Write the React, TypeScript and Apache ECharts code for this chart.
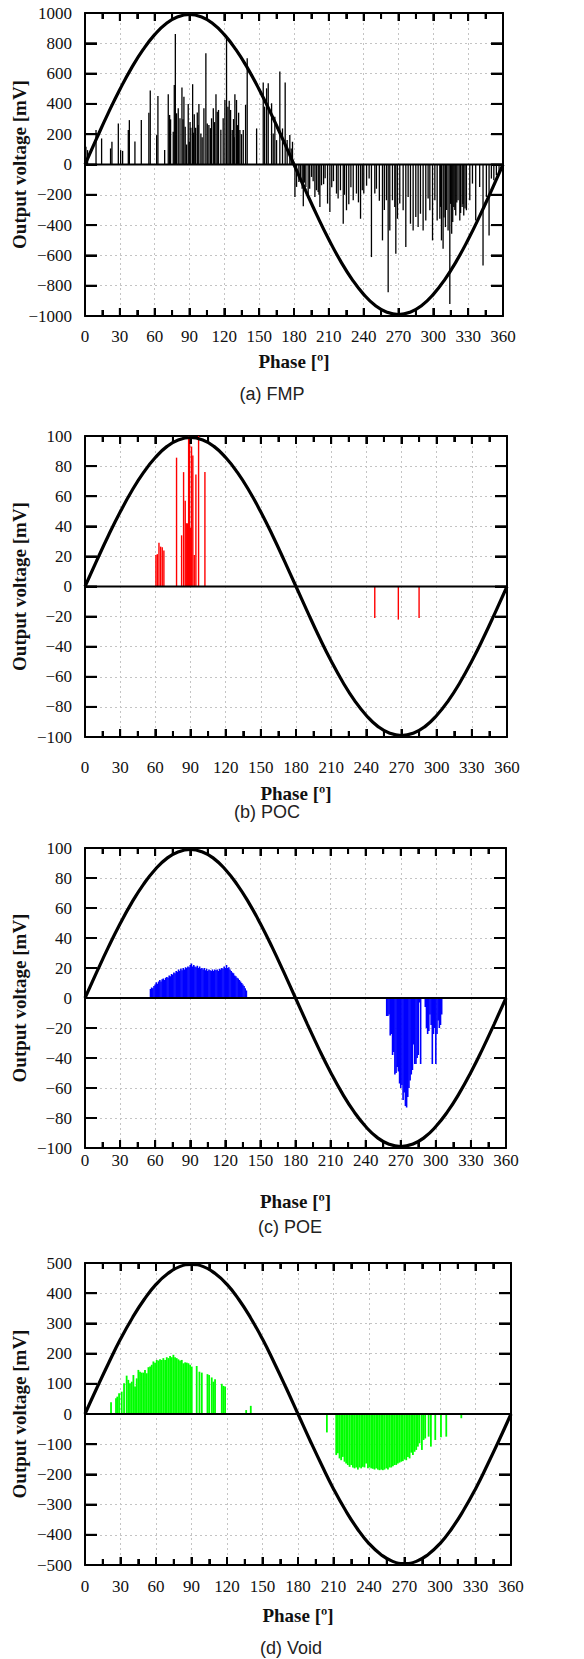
import React, { useEffect, useRef } from "react";
import * as echarts from "echarts";

// ---------- data ----------
const PHASE_TICKS = [0, 30, 60, 90, 120, 150, 180, 210, 240, 270, 300, 330, 360];
const PHASE_MINOR_TICKS = [15, 45, 75, 105, 135, 165, 195, 225, 255, 285, 315, 345];
const FMP_Y_TICKS = [-800, -600, -400, -200, 0, 200, 400, 600, 800];
const PD_Y_TICKS = [-80, -60, -40, -20, 0, 20, 40, 60, 80];
const VOID_Y_TICKS = [-400, -300, -200, -100, 0, 100, 200, 300, 400];
const SINE_PHASES = [0, 10, 20, 30, 40, 50, 60, 70, 80, 90, 100, 110, 120, 130, 140, 150, 160, 170, 180, 190, 200, 210, 220, 230, 240, 250, 260, 270, 280, 290, 300, 310, 320, 330, 340, 350, 360];

const sineFMP = [0, 172, 339, 495, 636, 758, 857, 931, 975, 990, 975, 931, 857, 758, 636, 495, 339, 172, 0, -172, -339, -495, -636, -758, -857, -931, -975, -990, -975, -931, -857, -758, -636, -495, -339, -172, 0];
const sinePOC = [0, 17.2, 33.9, 49.5, 63.6, 75.8, 85.7, 93.1, 97.5, 99, 97.5, 93.1, 85.7, 75.8, 63.6, 49.5, 33.9, 17.2, 0, -17.2, -33.9, -49.5, -63.6, -75.8, -85.7, -93.1, -97.5, -99, -97.5, -93.1, -85.7, -75.8, -63.6, -49.5, -33.9, -17.2, 0];
const sinePOE = [0, 17.2, 33.9, 49.5, 63.6, 75.8, 85.7, 93.1, 97.5, 99, 97.5, 93.1, 85.7, 75.8, 63.6, 49.5, 33.9, 17.2, 0, -17.2, -33.9, -49.5, -63.6, -75.8, -85.7, -93.1, -97.5, -99, -97.5, -93.1, -85.7, -75.8, -63.6, -49.5, -33.9, -17.2, 0];
const sineVoid = [0, 86, 169, 248, 318, 379, 429, 465, 488, 495, 488, 465, 429, 379, 318, 248, 169, 86, 0, -86, -169, -248, -318, -379, -429, -465, -488, -495, -488, -465, -429, -379, -318, -248, -169, -86, 0];

// FMP pulses: [phase, mV]
const fmpPulses = [
  [0.8, 117], [2.2, 95], [9.5, 227], [14.3, 172], [22, 106], [23.2, 150], [28.7, 271], [30.7, 95], [32.4, 90],
  [37.3, 227], [38.2, 293], [43, 152], [48.5, 293], [55, 342], [56.2, 488], [61.7, 194], [62.8, 452], [68.6, 95],
  [71.7, 463], [72.9, 327], [73.7, 298], [76, 216], [76.9, 525], [77.8, 861], [78.9, 338], [80.3, 371], [81.8, 305],
  [83.5, 508], [84.4, 298], [85.2, 448], [86.3, 250], [87.5, 132], [88.9, 400], [89.8, 150], [90.5, 280], [91.2, 243],
  [92.7, 530], [93.5, 210], [94.1, 331], [95.3, 243], [96.7, 344], [97.4, 260], [98.1, 400], [99.8, 205], [100.9, 180],
  [102.4, 371], [104.1, 735], [105.3, 271], [106.7, 260], [108, 240], [109, 305], [110.5, 371], [111.6, 280],
  [112.8, 463], [113.9, 349], [115, 360], [117, 230], [119, 305], [120.5, 426], [121.9, 841], [123.1, 382],
  [124.2, 421], [125.4, 360], [126.8, 227], [127.9, 300], [128.5, 180], [129.1, 463], [130.5, 426], [131.4, 260],
  [132.3, 342], [133.4, 227], [134.8, 200], [136.3, 227], [138.3, 393], [139.7, 702], [147.8, 238], [153.5, 541],
  [154.7, 382], [156.4, 503], [157.8, 536], [160.7, 404], [162.1, 205], [163.5, 316], [165, 161], [167.8, 614],
  [170.1, 238], [172.4, 541], [174.1, 161], [176.4, 194], [177.6, 106], [178.7, 150],
  [180.8, -214], [182.2, -148], [184.2, -115], [185.5, -90], [187, -160], [188, -276], [189, -120], [190.2, -148],
  [192.2, -214], [193.5, -160], [195.1, -82], [196.5, -110], [198, -214], [199.3, -170], [200.8, -181], [201.5, -200],
  [202.3, -280], [203.7, -137], [205.5, -130], [206.8, -90], [208.9, -258], [210.9, -313], [212.5, -150], [214, -110],
  [216.6, -192], [218, -225], [220, -170], [222.4, -391], [223.5, -200], [225.2, -302], [227.2, -263], [229, -150],
  [231, -236], [233.8, -192], [235.5, -250], [237.3, -358], [238.8, -170], [240.1, -192], [242.5, -140], [244.7, -93],
  [246.7, -611], [249.6, -192], [251, -160], [253.5, -240], [256.2, -501], [257.8, -300], [259.6, -236], [261.1, -843],
  [262.5, -435], [264.8, -236], [266.8, -280], [267.7, -589],
  [269.1, -358], [271.1, -258], [274, -302], [276.3, -545], [278.3, -214], [280.3, -391], [282.6, -435], [284.9, -347],
  [286.9, -413], [288.9, -325], [291.2, -435], [293.5, -369], [295.5, -225], [297, -302], [299.3, -501], [301.3, -236],
  [303.3, -369], [305.6, -358], [306.2, -280], [307, -501], [308.4, -556], [309.2, -350], [310.4, -413], [311.5, -300],
  [312.7, -435], [314.2, -921], [314.9, -260], [315.8, -457], [316.7, -380], [317.6, -280], [318.5, -300], [319.3, -336],
  [320.2, -250], [321.3, -236], [322.8, -369], [323.5, -320], [324.8, -280], [325.5, -260], [326.2, -336], [327.3, -290],
  [328.5, -302], [331.4, -236], [333.7, -126], [336.5, -369], [339.9, -148], [342.8, -667], [345.7, -214], [348, -468],
  [350, -93], [352.1, -104], [354.3, -71], [356.6, -60],
];

// POC pulses
const pocPulses = [
  [60.5, 21], [61.7, 21.5], [63.1, 29], [64.5, 26.5], [65.9, 26], [67.3, 24], [78.1, 85.6], [82.4, 34], [84.1, 76],
  [85.5, 57], [86.4, 42], [87.5, 42], [88.4, 100], [89.2, 100], [90.1, 39], [90.9, 93], [92, 87], [93.2, 21],
  [94.6, 74.5], [96.9, 100], [102.3, 76], [247.2, -21], [267.3, -22], [285, -21],
];

// POE pulses
const poePulses = [
  [56, 6], [57, 7], [58, 6.5], [59, 8], [60, 9], [61, 10.5], [62, 9.5], [63, 11], [64, 12], [65, 11], [66, 12.5],
  [67, 13], [68, 12], [69, 13.5], [70, 14], [71, 13.5], [72, 15], [73, 14.5], [74, 16], [75, 15.5], [76, 17],
  [77, 16.5], [78, 18], [79, 17.5], [80, 19], [81, 18], [82, 19.5], [83, 18.5], [84, 20], [85, 19], [86, 20.5],
  [87, 20], [88, 21], [89, 20.5], [90, 22], [91, 23], [92, 21], [93, 22], [94, 21], [95, 20.5], [96, 21.5], [97, 20],
  [98, 21], [99, 19.5], [100, 20], [101, 19], [102, 20], [103, 18.5], [104, 19.5], [105, 18], [106, 19], [107, 18.5],
  [108, 18], [109, 19], [110, 18], [111, 19], [112, 18.5], [113, 19], [114, 18], [115, 19.5], [116, 19], [117, 20],
  [118, 19.5], [119, 21], [120, 20], [121, 22], [122, 20], [123, 20.5], [124, 19], [125, 18], [126, 17], [127, 16.5],
  [128, 15], [129, 14.5], [130, 13.5], [131, 13], [132, 12], [133, 11], [134, 10], [135, 9], [136, 8], [137, 6.5],
  [138, 5],
  [258, -12], [259, -12], [260, -11], [261, -25], [262, -24], [263, -38], [264, -36], [265, -51], [266, -50],
  [267, -46], [268, -49], [269, -57], [270, -60], [271, -58], [272, -68], [273, -63], [274, -72], [275, -73],
  [276, -66], [277, -60], [278, -55], [279, -51], [280, -48], [281, -31], [282, -44], [283, -44], [284, -40],
  [285, -38], [286, -3], [287, -44], [291, -6], [292, -20], [293, -24], [294, -22], [295, -11], [296, -18], [297, -44],
  [298, -24], [299, -20], [300, -44], [301, -24], [302, -15], [303, -20], [304, -18], [305, -11],
];

// Void pulses
const voidPulses = [
  [22, 39], [26.2, 52], [27.3, 57.5], [28.8, 68.6], [31, 74], [33, 102], [35.2, 127], [36.6, 113], [38, 102],
  [39.5, 107], [40.9, 129], [42.3, 91], [43.7, 118], [45.1, 146], [46.5, 140], [47.9, 137], [49.3, 137], [50.7, 146],
  [52.2, 135], [53.6, 155], [55, 157], [56.4, 163], [57.8, 174], [59.2, 170], [60.6, 179], [62, 177], [63.4, 181],
  [64.8, 179], [66.2, 185], [67.7, 179], [69.1, 188], [70.5, 185], [71.9, 192], [73.3, 188], [74.7, 196], [76.1, 188],
  [77.5, 185], [78.9, 181], [80.3, 177], [81.8, 179], [83.2, 168], [84.6, 171], [86, 170], [87.4, 168], [88.8, 163],
  [90.2, 157], [94.4, 159], [96.7, 140], [98.7, 137], [103.5, 132], [104.9, 129], [107.1, 121], [108.5, 107],
  [109.9, 115], [115.6, 100], [117, 93], [118.4, 91], [136.2, 13], [140.1, 27],
  [204.4, -61], [212.3, -136], [213.7, -130], [215.1, -147], [216.5, -153], [217.9, -142], [219.3, -158],
  [220.7, -164], [222.1, -169], [223.6, -175], [225, -169], [226.4, -177], [227.8, -180], [229.2, -177], [230.6, -184],
  [232, -177], [233.4, -180], [234.8, -175], [236.2, -177], [237.6, -164], [239.1, -180], [240.5, -177], [241.9, -180],
  [243.3, -181], [244.7, -184], [246.1, -180], [247.5, -184], [248.9, -186], [250.3, -184], [251.7, -186],
  [253.1, -184], [254.6, -180], [256, -184], [257.4, -177], [258.8, -177], [260.2, -173], [261.6, -169], [263, -169],
  [264.4, -164], [265.8, -161], [267.2, -158], [268.6, -156], [270.1, -150], [271.5, -153], [272.9, -142],
  [274.3, -147], [275.7, -128], [277.1, -136], [278.5, -125], [279.9, -119], [281.3, -108], [282.7, -97],
  [284.7, -119], [286.1, -86], [287.5, -81], [290.4, -75], [292.3, -108], [296, -86], [300.8, -77], [305.3, -75],
  [318, -14],
];

// ---------- layout ----------
const SERIF = "'Liberation Serif', 'Times New Roman', 'DejaVu Serif', serif";
const SANS = "'Liberation Sans', Arial, 'DejaVu Sans', sans-serif";

const panels = [
  { left: 85, top: 13, width: 418, height: 303, min: -1000, max: 1000, step: 200, yTicks: FMP_Y_TICKS, sine: sineFMP, pulses: fmpPulses, color: "#000000", bw: 1.3, labelMargin: 12, phaseY: 361, capX: 272, capY: 394, caption: "(a) FMP" },
  { left: 85, top: 436, width: 422, height: 301, min: -100, max: 100, step: 20, yTicks: PD_Y_TICKS, sine: sinePOC, pulses: pocPulses, color: "#ff0000", bw: 1.4, labelMargin: 22, phaseY: 793, capX: 267, capY: 812, caption: "(b) POC" },
  { left: 85, top: 848, width: 421, height: 300, min: -100, max: 100, step: 20, yTicks: PD_Y_TICKS, sine: sinePOE, pulses: poePulses, color: "#0000ff", bw: 1.6, labelMargin: 4, phaseY: 1201, capX: 290, capY: 1227, caption: "(c) POE" },
  { left: 85, top: 1263, width: 426, height: 302, min: -500, max: 500, step: 100, yTicks: VOID_Y_TICKS, sine: sineVoid, pulses: voidPulses, color: "#00ff00", bw: 1.8, labelMargin: 13, phaseY: 1615, capX: 291, capY: 1648, caption: "(d) Void" },
];

const MAJOR_X_TICK = 8;
const MINOR_X_TICK = 6;
const Y_TICK = 12;
const TICK_W = 2;

function lineItem(x1: number, y1: number, x2: number, y2: number) {
  return { type: "line", shape: { x1, y1, x2, y2 }, style: { stroke: "#000", lineWidth: TICK_W } };
}

function buildOption() {
  const grid: any[] = [];
  const xAxis: any[] = [];
  const yAxis: any[] = [];
  const series: any[] = [];
  const graphic: any[] = [];
  const axisLine = { show: true, onZero: false, lineStyle: { color: "#000", width: 2 } };
  const split = { show: true, lineStyle: { color: "#c4c4c4", width: 1, type: [2, 3] } };
  const fmt = (v: number) => (v < 0 ? "\u2212" + Math.abs(v) : String(v));
  const xMin = PHASE_TICKS[0];
  const xMax = PHASE_TICKS[PHASE_TICKS.length - 1];
  const xTickCfg = { show: true, inside: true, length: MAJOR_X_TICK, lineStyle: { color: "#000", width: TICK_W } };
  const xMinorCfg = { show: true, splitNumber: 2, length: MINOR_X_TICK, lineStyle: { color: "#000", width: TICK_W } };
  const yTickCfg = { show: true, inside: true, length: Y_TICK, lineStyle: { color: "#000", width: TICK_W } };

  panels.forEach((p, i) => {
    grid.push({ left: p.left, top: p.top, width: p.width, height: p.height, containLabel: false });
    const xBase = { type: "value", gridIndex: i, min: xMin, max: xMax, interval: 30, axisLine, axisTick: xTickCfg, minorTick: xMinorCfg };
    xAxis.push({
      ...xBase, position: "bottom",
      axisLabel: { show: true, fontFamily: SERIF, fontSize: 17, color: "#111", margin: p.labelMargin, showMinLabel: true, showMaxLabel: true, hideOverlap: false },
      splitLine: split,
    });
    xAxis.push({ ...xBase, position: "top", axisLabel: { show: false }, splitLine: { show: false } });
    const yBase = { type: "value", gridIndex: i, min: p.min, max: p.max, interval: p.step, axisLine, axisTick: yTickCfg };
    yAxis.push({
      ...yBase, position: "left",
      axisLabel: { show: true, fontFamily: SERIF, fontSize: 17, color: "#111", margin: 13, formatter: fmt, showMinLabel: true, showMaxLabel: true },
      splitLine: split,
    });
    yAxis.push({ ...yBase, position: "right", axisLabel: { show: false }, splitLine: { show: false } });

    const yMin = p.min;
    const yMax = p.max;
    // inward ticks: bottom edge
    series.push({
      type: "custom", xAxisIndex: 2 * i, yAxisIndex: 2 * i, z: 10,
      data: PHASE_TICKS.map((v) => [v, yMin, MAJOR_X_TICK]).concat(PHASE_MINOR_TICKS.map((v) => [v, yMin, MINOR_X_TICK])),
      encode: { x: 0, y: 1 },
      renderItem: (_params: any, api: any) => {
        const c = api.coord([api.value(0), api.value(1)]);
        return lineItem(c[0], c[1], c[0], c[1] - api.value(2));
      },
    });
    // inward ticks: top edge
    series.push({
      type: "custom", xAxisIndex: 2 * i, yAxisIndex: 2 * i, z: 10,
      data: PHASE_TICKS.map((v) => [v, yMax, MAJOR_X_TICK]).concat(PHASE_MINOR_TICKS.map((v) => [v, yMax, MINOR_X_TICK])),
      encode: { x: 0, y: 1 },
      renderItem: (_params: any, api: any) => {
        const c = api.coord([api.value(0), api.value(1)]);
        return lineItem(c[0], c[1], c[0], c[1] + api.value(2));
      },
    });
    // inward ticks: left edge
    series.push({
      type: "custom", xAxisIndex: 2 * i, yAxisIndex: 2 * i, z: 10,
      data: p.yTicks.map((v) => [xMin, v]),
      encode: { x: 0, y: 1 },
      renderItem: (_params: any, api: any) => {
        const c = api.coord([api.value(0), api.value(1)]);
        return lineItem(c[0], c[1], c[0] + Y_TICK, c[1]);
      },
    });
    // inward ticks: right edge
    series.push({
      type: "custom", xAxisIndex: 2 * i, yAxisIndex: 2 * i, z: 10,
      data: p.yTicks.map((v) => [xMax, v]),
      encode: { x: 0, y: 1 },
      renderItem: (_params: any, api: any) => {
        const c = api.coord([api.value(0), api.value(1)]);
        return lineItem(c[0], c[1], c[0] - Y_TICK, c[1]);
      },
    });

    const color = p.color;
    const bw = p.bw;
    series.push({
      type: "custom", xAxisIndex: 2 * i, yAxisIndex: 2 * i, z: 2,
      data: p.pulses,
      encode: { x: 0, y: 1 },
      renderItem: (_params: any, api: any) => {
        const x = api.value(0);
        const y = api.value(1);
        const a = api.coord([x, 0]);
        const b = api.coord([x, y]);
        return { type: "line", shape: { x1: a[0], y1: a[1], x2: b[0], y2: b[1] }, style: { stroke: color, lineWidth: bw } };
      },
    });
    series.push({
      type: "line", xAxisIndex: 2 * i, yAxisIndex: 2 * i, z: 3, symbol: "none",
      data: [[xMin, 0], [xMax, 0]],
      lineStyle: { color: "#000", width: 2.2 },
    });
    series.push({
      type: "line", xAxisIndex: 2 * i, yAxisIndex: 2 * i, z: 4, symbol: "none", smooth: true,
      data: SINE_PHASES.map((ph, k) => [ph, p.sine[k]]),
      lineStyle: { color: "#000", width: 3.2 },
    });

    graphic.push({
      type: "text", x: 19, y: p.top + p.height / 2, rotation: Math.PI / 2,
      style: { text: "Output voltage [mV]", font: `bold 19px ${SERIF}`, fill: "#111", textAlign: "center", textVerticalAlign: "middle", align: "center", verticalAlign: "middle" },
    });
    graphic.push({
      type: "text", x: p.left + p.width / 2, y: p.phaseY,
      style: { text: "Phase [\u00ba]", font: `bold 19px ${SERIF}`, fill: "#111", textAlign: "center", textVerticalAlign: "middle", align: "center", verticalAlign: "middle" },
    });
    graphic.push({
      type: "text", x: p.capX, y: p.capY,
      style: { text: p.caption, font: `18px ${SANS}`, fill: "#222", textAlign: "center", textVerticalAlign: "middle", align: "center", verticalAlign: "middle" },
    });
  });

  return { animation: false, backgroundColor: "#ffffff", grid, xAxis, yAxis, series, graphic };
}

export default function App() {
  const ref = useRef<HTMLDivElement>(null);
  useEffect(() => {
    document.body.style.margin = "0";
    const chart = echarts.init(ref.current as HTMLDivElement, null, { renderer: "svg" });
    chart.setOption(buildOption() as any);
    return () => chart.dispose();
  }, []);
  return <div ref={ref} style={{ position: "absolute", left: 0, top: 0, width: 584, height: 1659, background: "#fff" }} />;
}
